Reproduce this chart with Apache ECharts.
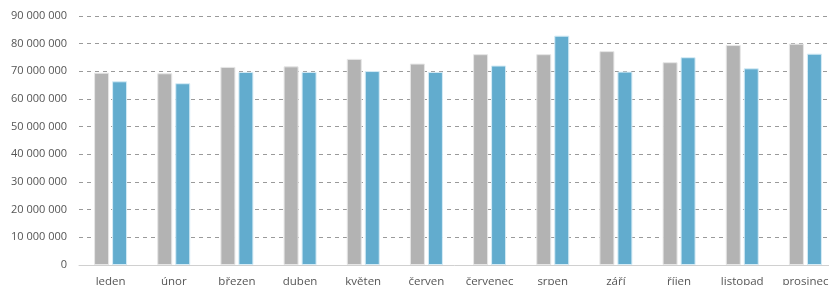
<!DOCTYPE html>
<html>
<head>
<meta charset="utf-8">
<script src="https://cdn.jsdelivr.net/npm/echarts@6/dist/echarts.min.js"></script>
<style>
  html, body { margin: 0; padding: 0; background: #fff; }
  #chart { width: 829px; height: 285px; }
</style>
</head>
<body>
<div id="chart"></div>
<script>
const months = ['leden', 'únor', 'březen', 'duben', 'květen', 'červen', 'červenec', 'srpen', 'září', 'říjen', 'listopad', 'prosinec']
const greyValues = [69.5, 69.3, 71.6, 71.8, 74.5, 72.8, 76.2, 76.2, 77.3, 73.3, 79.5, 80.0].map(v => v * 1e6)
const blueValues = [66.4, 65.7, 69.8, 69.8, 70.1, 69.8, 72.1, 82.9, 69.9, 75.1, 71.1, 76.4].map(v => v * 1e6)

const fmt = v => String(v).replace(/\B(?=(\d{3})+(?!\d))/g, ' ')

const chart = echarts.init(document.getElementById('chart'))
chart.setOption({
  animation: false,
  textStyle: { fontFamily: 'Open Sans' },
  grid: { left: 79, top: 16, width: 758, height: 249, containLabel: false, outerBoundsMode: 'none' },
  xAxis: {
    type: 'category', data: months,
    axisLine: { lineStyle: { color: '#d0d0d0', width: 1 } },
    axisTick: { show: false },
    axisLabel: { color: '#555', fontSize: 11.5, margin: 11, interval: 0 }
  },
  yAxis: {
    type: 'value', min: 0, max: 90000000, interval: 10000000,
    axisLabel: { color: '#555', fontSize: 11, margin: 12, formatter: fmt },
    splitLine: { lineStyle: { color: '#9a9a9a', type: [4, 4], width: 1 } }
  },
  series: [
    {
      type: 'bar', data: greyValues, barWidth: 15, barGap: '20%',
      itemStyle: { color: '#b3b3b3', borderColor: '#e6e6e6', borderWidth: 1 }
    },
    {
      type: 'bar', data: blueValues, barWidth: 15,
      itemStyle: { color: '#62acce', borderColor: '#d6ecf6', borderWidth: 1 }
    }
  ]
})
</script>
</body>
</html>
